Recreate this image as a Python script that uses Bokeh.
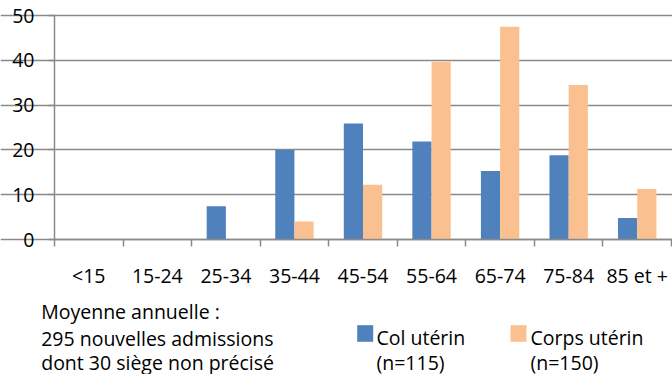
from bokeh.plotting import figure
from bokeh.models import ColumnDataSource, Range1d, FixedTicker
from bokeh.transform import dodge
from bokeh.core.properties import value
from bokeh.embed import file_html
from bokeh.resources import INLINE

# ---- data ----
categories = ["<15", "15-24", "25-34", "35-44", "45-54", "55-64", "65-74", "75-84", "85 et +"]
col_uterin = [0, 0, 7.4, 20.0, 25.9, 21.9, 15.3, 18.8, 4.8]
corps_uterin = [0, 0, 0, 4.0, 12.2, 39.7, 47.5, 34.5, 11.3]
series_names = ["Col utérin", "Corps utérin"]
series_n = [115, 150]
series_colors = ["#4F81BD", "#FAC090"]
y_ticks = [0, 10, 20, 30, 40, 50]
note_lines = ["Moyenne annuelle :", "295 nouvelles admissions", "dont 30 siège non précisé"]

FONT = "Open Sans"
FSIZE = "19.5px"
GRID = "#8a8a8a"
TEXT_DY = -4   # empirical correction of the text glyph baseline

# plot-area geometry in pixels (the frame fills the canvas; axes sit at fixed locations)
W, H = 672, 374
PL, PR, PT, PB = 54, 671, 15, 239
YMAX = 50
NC = len(categories)
xpx = (PR - PL) / NC        # pixels per category
ypx = (PB - PT) / YMAX      # pixels per unit


def dx(px):
    return (px - PL) / xpx


def dy(py):
    return (PB - py) / ypx


xs = [i + 0.5 for i in range(NC)]
src = ColumnDataSource(dict(x=xs, col=col_uterin, corps=corps_uterin))

p = figure(width=W, height=H, x_range=Range1d(dx(0), dx(W)), y_range=Range1d(dy(H), dy(0)),
           output_backend="svg", toolbar_location=None, min_border=0)
p.outline_line_color = None
p.background_fill_color = "white"
p.border_fill_color = "white"

bw = 0.28
p.vbar(x=dodge("x", -bw / 2, range=p.x_range), top="col", width=bw, source=src,
       fill_color=series_colors[0], line_color=None)
p.vbar(x=dodge("x", bw / 2, range=p.x_range), top="corps", width=bw, source=src,
       fill_color=series_colors[1], line_color=None)

# x axis: labels at centers, ticks at category boundaries
xa = p.xaxis[0]
xa.fixed_location = 0
xa.bounds = (0, NC)
xa.ticker = FixedTicker(ticks=xs, minor_ticks=list(range(NC + 1)))
xa.major_label_overrides = {x: c for x, c in zip(xs, categories)}
xa.major_tick_line_color = None
xa.minor_tick_line_color = GRID
xa.minor_tick_line_width = 1.5
xa.minor_tick_out = 7
xa.minor_tick_in = 0
xa.axis_line_color = GRID
xa.axis_line_width = 1.5
xa.major_label_standoff = 15
xa.major_label_text_font = FONT
xa.major_label_text_font_size = FSIZE
xa.major_label_text_color = "black"

ya = p.yaxis[0]
ya.fixed_location = 0
ya.bounds = (0, YMAX)
ya.ticker = FixedTicker(ticks=y_ticks)
ya.minor_tick_line_color = None
ya.major_tick_line_color = GRID
ya.major_tick_line_width = 1.5
ya.major_tick_out = 6
ya.major_tick_in = 0
ya.axis_line_color = GRID
ya.axis_line_width = 1.5
ya.major_label_standoff = 14
ya.major_label_text_font = FONT
ya.major_label_text_font_size = FSIZE
ya.major_label_text_color = "black"

p.xgrid.grid_line_color = None
p.ygrid.ticker = FixedTicker(ticks=y_ticks)
p.ygrid.bounds = (0, NC)
p.ygrid.grid_line_color = GRID
p.ygrid.grid_line_width = 1.5

txt_kw = dict(text_font=value(FONT), text_font_size=FSIZE, text_color="black",
              text_align="left", text_baseline="alphabetic")

# notes
p.text(x=[dx(40.7)] * 3, y=[dy(b + TEXT_DY) for b in (315, 342, 366)], text=note_lines, **txt_kw)

# legend
sw_cx = [364.7, 518]
lab_x = [376, 530]
p.rect(x=[dx(c) for c in sw_cx], y=[dy(333)] * 2, width=16 / xpx, height=16.6 / ypx,
       fill_color=series_colors, line_color=None)
p.text(x=[dx(v) for v in lab_x], y=[dy(341 + TEXT_DY)] * 2, text=series_names, **txt_kw)
p.text(x=[dx(v) for v in lab_x], y=[dy(366 + TEXT_DY)] * 2,
       text=[f"(n={n})" for n in series_n], **txt_kw)

open("out.html", "w").write(file_html(p, INLINE))
